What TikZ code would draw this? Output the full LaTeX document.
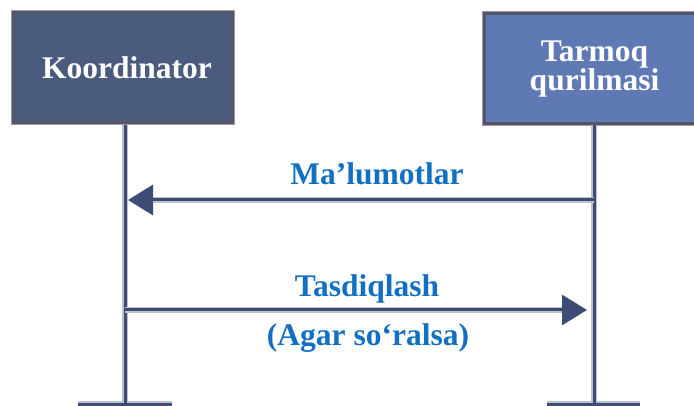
\documentclass[tikz,border=0pt]{standalone}
\usepackage{fontspec}
\setmainfont{Liberation Serif}
\usetikzlibrary{arrows.meta}
\definecolor{boxA}{HTML}{4B5B7E}
\definecolor{boxB}{HTML}{5E79B4}
\definecolor{boxedge}{HTML}{55556A}
\definecolor{boxouter}{HTML}{9A9AA8}
\definecolor{halo}{HTML}{BCC1CC}
\definecolor{core}{HTML}{3C4C74}
\definecolor{lbl}{HTML}{1270C2}
\tikzset{
  actor/.style={draw=boxedge, line width=3pt, minimum height=110pt, inner sep=0pt,
    text=white, align=center, font=\fontsize{31.5}{28}\selectfont\bfseries,
    preaction={draw=boxouter, line width=5pt}},
  halostroke/.style={draw=halo, line width=6.5pt},
  corestroke/.style={draw=core, line width=3pt},
  msgtip/.style={-{Triangle[length=25pt,width=30pt]}},
  msglabel/.style={text=lbl, font=\fontsize{31.5}{34}\selectfont\bfseries, inner sep=0pt},
}
\begin{document}
\begin{tikzpicture}[x=1pt,y=-1pt]
\useasboundingbox (0,0) rectangle (694,406);
% actor boxes
\node[actor, fill=boxA, minimum width=219pt] (koord) at (122.5,68) {\hspace*{9pt}Koordinator};
\node[actor, fill=boxB, minimum width=221pt] (tarm) at (594.5,69) {Tarmoq\\qurilmasi};
% lifeline coordinates
\coordinate (lt) at (125,125);
\coordinate (lb) at (125,403);
\coordinate (rt) at (594,125);
\coordinate (rb) at (594,403);
\coordinate (lbl1) at (78,404);
\coordinate (lbr1) at (172,404);
\coordinate (lbl2) at (547,404);
\coordinate (lbr2) at (640,404);
\coordinate (m1r) at (594,200);
\coordinate (m1l) at (125,200);
\coordinate (m2l) at (125,310);
\coordinate (m2r) at (594,310);
% lifelines
\draw[halostroke] (lt) -- (lb);
\draw[halostroke] (rt) -- (rb);
\draw[halostroke] (lbl1) -- (lbr1);
\draw[halostroke] (lbl2) -- (lbr2);
\draw[corestroke] (lt) -- (lb);
\draw[corestroke] (rt) -- (rb);
\draw[corestroke] (lbl1) -- (lbr1);
\draw[corestroke] (lbl2) -- (lbr2);
% messages
\draw[halostroke, shorten >=20pt] (m1r) -- (m1l);
\draw[corestroke, msgtip, shorten >=3pt] (m1r) -- (m1l);
\draw[halostroke, shorten >=25pt] (m2l) -- (m2r);
\draw[corestroke, msgtip, shorten >=7pt] (m2l) -- (m2r);
% labels
\node[msglabel, anchor=base] (t1) at (377,185) {Ma’lumotlar};
\node[msglabel, anchor=base] (t2) at (367,297) {Tasdiqlash};
\node[msglabel, anchor=base] (t3) at (368,345) {(Agar so‘ralsa)};
\end{tikzpicture}
\end{document}
